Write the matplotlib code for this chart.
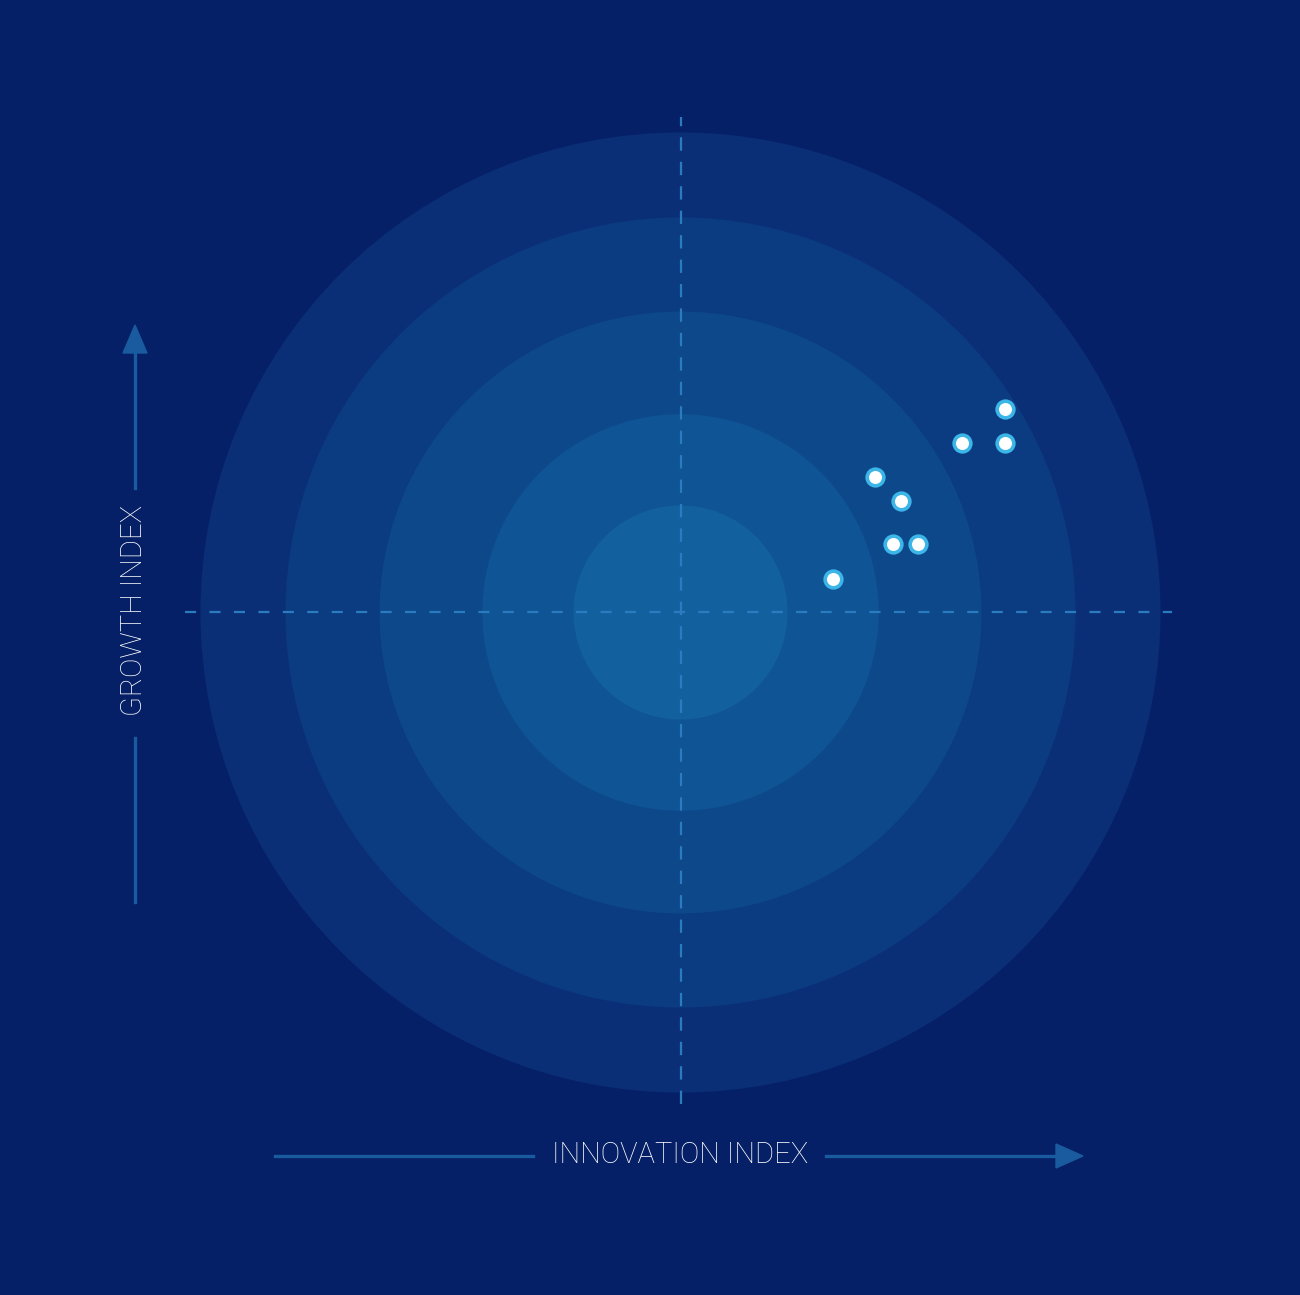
import matplotlib.pyplot as plt
from matplotlib.patches import Circle

# ring radii (score units, outer ring = 100) and their fills, outermost first
ring_radii = [100, 82.3, 62.7, 41.3, 22.3]
ring_colors = ["#0a2f77", "#0b3b80", "#0d488b", "#0f5495", "#13609f"]

# companies: innovation index (x) vs growth index (y), centre = 0
innovation = [67.6, 58.6, 67.6, 40.6, 46.0, 44.3, 49.5, 31.8]
growth = [42.4, 35.4, 35.4, 28.3, 23.2, 14.3, 14.3, 7.0]

bg = "#052066"
arrow_col = "#1a5a9e"
dash_col = "#2b7cbf"

plt.rcParams['font.family'] = ['Roboto', 'DejaVu Sans']

fig = plt.figure(figsize=(13, 12.95), dpi=100, facecolor=bg)
ax = fig.add_axes([0, 0, 1, 1])
ax.set_facecolor(bg)
ax.set_xlim(-141.77, 129.06)
ax.set_ylim(-142.19, 127.6)
ax.set_aspect('equal')
ax.axis('off')

for r, c in zip(ring_radii, ring_colors):
    ax.add_patch(Circle((0, 0), r, facecolor=c, edgecolor='none', zorder=1))

# dashed cross through the centre
ax.plot([-103.2, 102.4], [0, 0], color=dash_col, lw=1.6, dashes=(5, 6), zorder=2)
ax.plot([0, 0], [-102.5, 103.2], color=dash_col, lw=1.6, dashes=(6, 5), zorder=2)

ax.plot(innovation, growth, 'o', ms=12, mfc='white', mec='#3cb6e8', mew=2.6,
        zorder=5, linestyle='none')

# axis arrows (figure fractions)
W, H = 1300, 1295


def fx(px):
    return px / W


def fy(py):
    return 1 - py / H


lw_arrow = 2.4
fig.add_artist(plt.Line2D([fx(275), fx(533)], [fy(1156), fy(1156)],
                          color=arrow_col, lw=lw_arrow))
fig.add_artist(plt.Line2D([fx(826), fx(1060)], [fy(1156), fy(1156)],
                          color=arrow_col, lw=lw_arrow))
fig.add_artist(plt.Polygon([[fx(1056), fy(1144)], [fx(1083), fy(1156)], [fx(1056), fy(1168)]],
                           closed=True, color=arrow_col))
fig.text(fx(680), fy(1155), "INNOVATION INDEX", color='white', fontsize=21,
         fontweight='light', ha='center', va='center')

fig.add_artist(plt.Line2D([fx(135), fx(135)], [fy(350), fy(488)],
                          color=arrow_col, lw=lw_arrow))
fig.add_artist(plt.Line2D([fx(135), fx(135)], [fy(738), fy(902)],
                          color=arrow_col, lw=lw_arrow))
fig.add_artist(plt.Polygon([[fx(123), fy(353)], [fx(135), fy(325)], [fx(147), fy(353)]],
                           closed=True, color=arrow_col))
fig.text(fx(134), fy(611), "GROWTH INDEX", color='white', fontsize=21,
         fontweight='light', ha='center', va='center', rotation=90)

fig.savefig("out.png", dpi=100, facecolor=bg)
